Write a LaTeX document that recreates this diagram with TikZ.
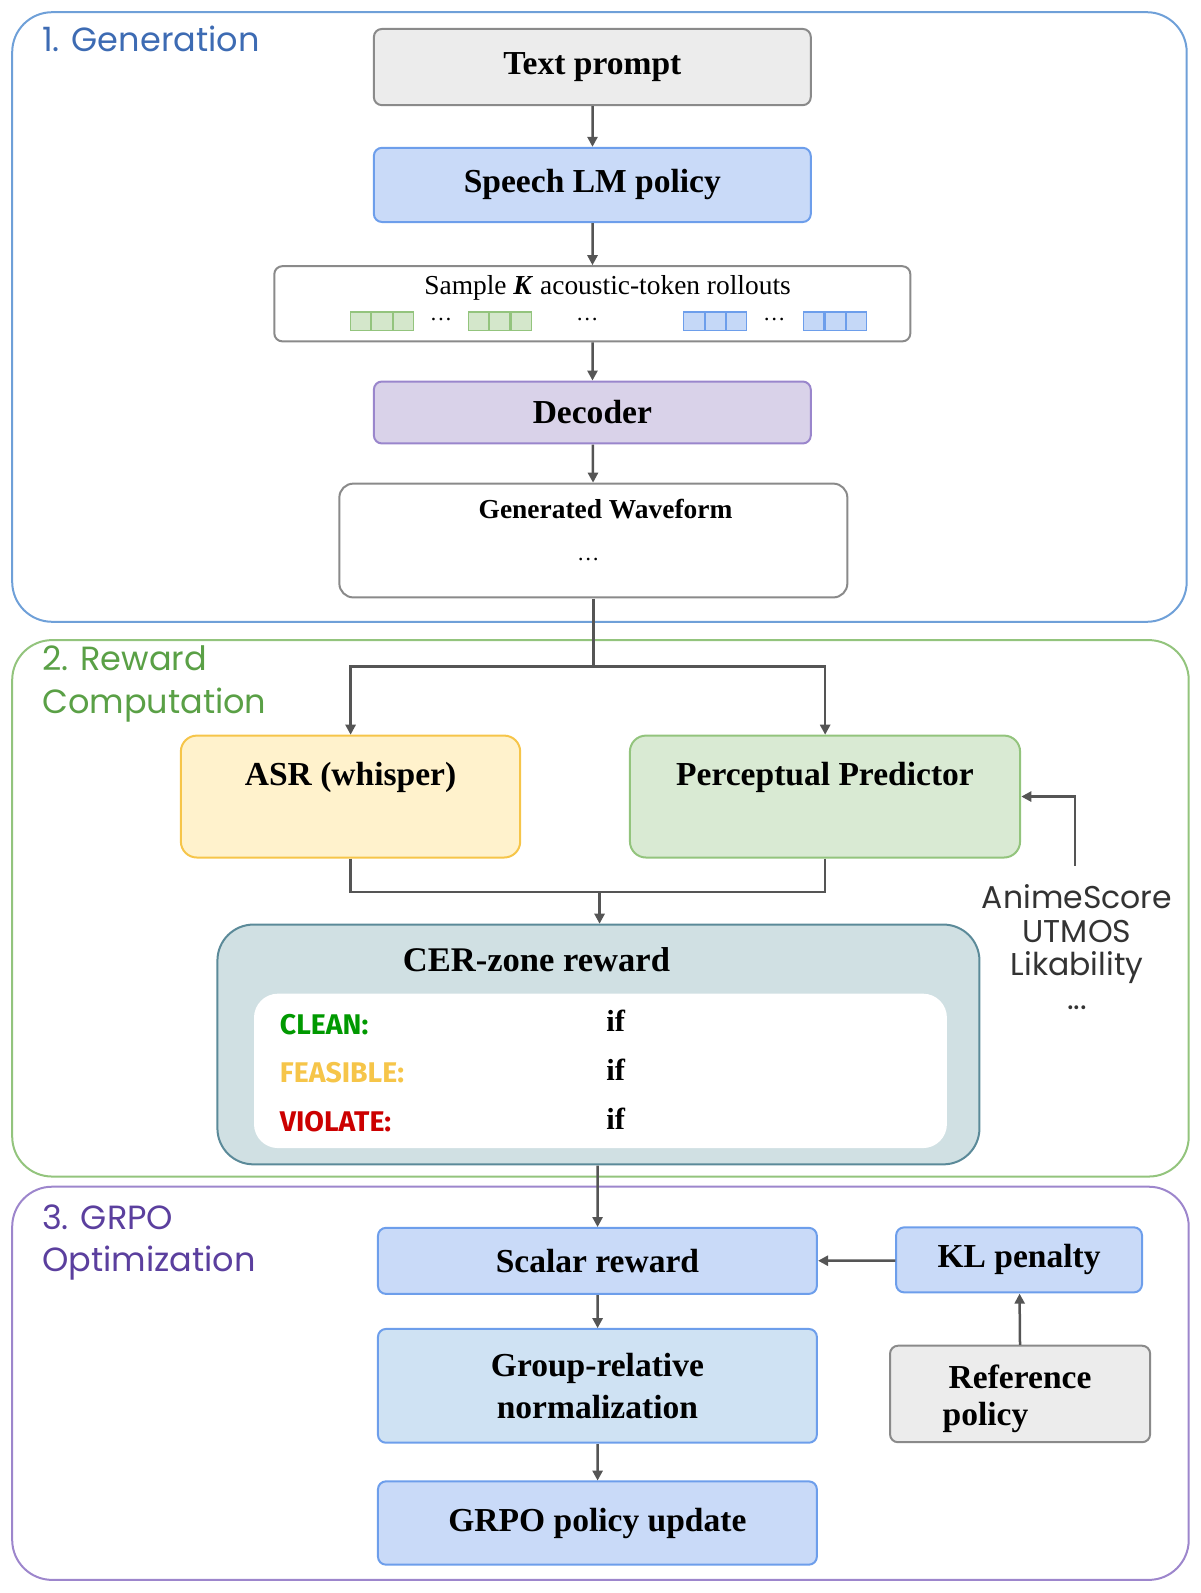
\documentclass[tikz,border=0pt]{standalone}
\usepackage{fontspec}
\setmainfont{Liberation Serif}
\newfontfamily\secfont{Poppins}
\newfontfamily\zonefont{Fira Sans}
\usetikzlibrary{arrows.meta}
\definecolor{blueF}{HTML}{C9DAF8}\definecolor{blueB}{HTML}{6D9EEB}
\definecolor{grayF}{HTML}{ECECEC}\definecolor{grayB}{HTML}{8A8A8A}
\definecolor{purF}{HTML}{D9D2E9}\definecolor{purB}{HTML}{9A86CC}
\definecolor{yelF}{HTML}{FFF2CC}\definecolor{yelB}{HTML}{F6C549}
\definecolor{grnF}{HTML}{D9EAD3}\definecolor{grnB}{HTML}{93C47D}
\definecolor{tealF}{HTML}{D0E0E3}\definecolor{tealB}{HTML}{5B8A99}
\definecolor{lbF}{HTML}{CFE2F3}
\definecolor{secBlue}{HTML}{3D6BB3}\definecolor{secGreen}{HTML}{5AA046}\definecolor{secPur}{HTML}{5B3F9E}
\definecolor{frameBlue}{HTML}{6FA0D8}\definecolor{frameGreen}{HTML}{93C47D}\definecolor{framePur}{HTML}{9D86CC}
\definecolor{arr}{HTML}{555555}
\tikzset{
 bt/.style={font=\fontsize{33}{37}\selectfont\bfseries},
 box/.style={draw, line width=2pt, rounded corners=8pt, bt, inner sep=0pt},
 frame/.style={line width=2pt, rounded corners=40pt},
 sec/.style={font=\secfont\fontsize{33}{42}\selectfont, anchor=north west, align=left},
 con/.style={draw=arr, line width=2.5pt, -{Triangle[length=10pt,width=10pt]}},
 ln/.style={draw=arr, line width=2.5pt},
 tok/.style={draw, line width=1.2pt, minimum width=20pt, minimum height=18pt, inner sep=0pt},
 side/.style={font=\secfont\fontsize{31}{34}\selectfont, text=black!80},
 zone/.style={font=\zonefont\bfseries\fontsize{28}{30}\selectfont, anchor=west},
}
\begin{document}
\begin{tikzpicture}[x=1pt,y=-1pt]
\useasboundingbox (0,0) rectangle (1200,1593);
\begin{scope}[scale=1.016, transform shape]
% frames
\draw[frame, frameBlue] (12,12) rectangle (1168,612);
\draw[frame, frameGreen] (12,630) rectangle (1170,1158);
\draw[frame, framePur] (12,1168) rectangle (1170,1555);
\node[sec, text=secBlue] (s1) at (38,22) {1. Generation};
\node[sec, text=secGreen] (s2) at (38,632) {2. Reward\\Computation};
\node[sec, text=secPur] (s3) at (38,1182) {3. GRPO\\Optimization};
% generation
\node[box, fill=grayF, draw=grayB, minimum width=430pt, minimum height=75pt] (tp) at (583,66) {Text prompt};
\node[box, fill=blueF, draw=blueB, minimum width=430pt, minimum height=73pt] (lm) at (583,182) {Speech LM policy};
\node[draw=grayB, line width=2pt, rounded corners=8pt, fill=white, minimum width=626pt, minimum height=74pt] (ro) at (583,299) {};
\node[font=\fontsize{27}{29}\selectfont] (rot) at (598,283) {Sample \textbf{\textit{K}} acoustic-token rollouts};
\foreach \x/\c [count=\i] in {355/grnB,376/grnB,397/grnB,471/grnB,492/grnB,513/grnB,683/blueB,704/blueB,725/blueB,801/blueB,822/blueB,843/blueB}
  \node[tok, draw=\c, fill=\c!40] (t\i) at (\x,316) {};
\foreach \x [count=\i] in {434,578,762} \node[font=\fontsize{22}{22}\selectfont] (d\i) at (\x,314) {\dots};
\node[box, fill=purF, draw=purB, minimum width=430pt, minimum height=61pt] (dec) at (583,406) {Decoder};
\node[draw=grayB, line width=2pt, rounded corners=14pt, fill=white, minimum width=500pt, minimum height=112pt] (wf) at (584,532) {};
\node[font=\fontsize{27}{29}\selectfont\bfseries] (wft) at (596,501) {Generated Waveform};
\node[font=\fontsize{22}{22}\selectfont] (wfd) at (579,551) {\dots};
\draw[con] (tp) -- (lm);
\draw[con] (lm) -- (ro);
\draw[con] (ro) -- (dec);
\draw[con] (dec) -- (wf);
% reward
\node[box, fill=yelF, draw=yelB, minimum width=334pt, minimum height=120pt, rounded corners=16pt] (asr) at (345,784) {};
\node[bt] (asrt) at (345,765) {ASR (whisper)};
\node[box, fill=grnF, draw=grnB, minimum width=384pt, minimum height=120pt, rounded corners=16pt] (pp) at (812,784) {};
\node[bt] (ppt) at (812,765) {Perceptual Predictor};
\coordinate (split) at (584,656);
\draw[ln] (wf.south) -- (split);
\draw[con] (split) -| (asr.north);
\draw[con] (split) -| (pp.north);
\coordinate (join) at (590,878);
\draw[ln] (asr.south) |- (join);
\draw[ln] (pp.south) |- (join);
\node[draw=tealB, line width=2pt, fill=tealF, rounded corners=36pt, minimum width=750pt, minimum height=236pt] (cer) at (589,1028) {};
\draw[con] (join) -- (cer.north -| join);
\node[font=\fontsize{34}{36}\selectfont\bfseries] (cert) at (528,945) {CER-zone reward};
\node[fill=white, rounded corners=24pt, minimum width=682pt, minimum height=152pt] (inner) at (591,1054) {};
\node[zone, text=green!60!black] (z1) at (272,1008) {CLEAN:};
\node[zone, text=yelB] (z2) at (272,1056) {FEASIBLE:};
\node[zone, text=red!80!black] (z3) at (272,1104) {VIOLATE:};
\foreach \y [count=\i] in {1005,1053,1101} \node[font=\fontsize{30}{32}\selectfont\bfseries] (if\i) at (606,\y) {if};
\node[side, align=center] (metrics) at (1060,932) {AnimeScore\\[-1pt]UTMOS\\[-1pt]Likability\\[-1pt]...};
\coordinate (mt) at (1058,852);
\draw[con] (mt) |- (pp.east |- 0,784);
% GRPO
\node[box, fill=blueF, draw=blueB, minimum width=432pt, minimum height=65pt] (sr) at (588,1241) {Scalar reward};
\node[box, fill=blueF, draw=blueB, minimum width=242pt, minimum height=64pt] (kl) at (1003,1240) {KL penalty};
\node[box, fill=grayF, draw=grayB, minimum width=256pt, minimum height=95pt] (ref) at (1004,1372) {};
\node[bt] (reft1) at (1004,1355) {Reference};
\node[bt] (reft2) at (970,1395) {policy};
\node[box, fill=lbF, draw=blueB, minimum width=432pt, minimum height=112pt, align=center, font=\fontsize{33}{41}\selectfont\bfseries] (grn) at (588,1364) {Group-relative\\normalization};
\node[box, fill=blueF, draw=blueB, minimum width=432pt, minimum height=82pt] (up) at (588,1499) {GRPO policy update};
\draw[con] (cer.south -| sr) -- (sr);
\draw[con] (kl) -- (sr);
\draw[con] (ref) -- (kl);
\draw[con] (sr) -- (grn);
\draw[con] (grn) -- (up);
\end{scope}
\end{tikzpicture}
\end{document}
